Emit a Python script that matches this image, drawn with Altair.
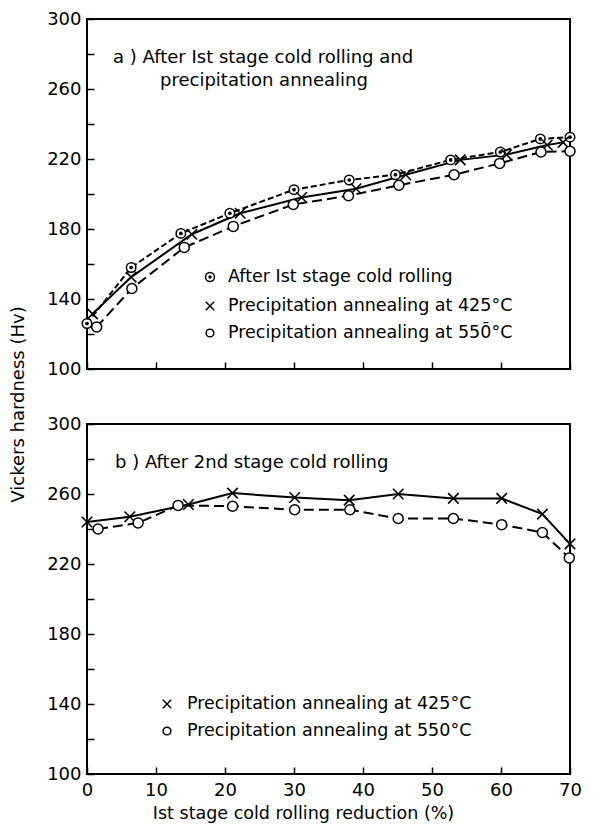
import altair as alt
import pandas as pd

# ---------------- data ----------------
X_TICK_VALUES = [0, 10, 20, 30, 40, 50, 60, 70]
Y_TICK_VALUES = [100, 120, 140, 160, 180, 200, 220, 240, 260, 280, 300]
Y_LABEL_VALUES = [100, 140, 180, 220, 260, 300]

# panel a) after 1st stage cold rolling and precipitation annealing
a_cold_x = [0.0, 6.4, 13.6, 20.7, 30.0, 38.0, 44.7, 52.7, 59.9, 65.7, 70.0]
a_cold_y = [126, 158, 177.5, 189, 202.5, 208, 211, 219.5, 224, 231.5, 232.5]
a_425_x = [0.8, 6.4, 15.2, 22.2, 31.1, 39.0, 46.2, 54.1, 60.8, 66.7, 69.0]
a_425_y = [131.5, 152.5, 177, 189, 198, 203, 211, 219.5, 222.5, 228, 229.5]
a_550_x = [1.4, 6.5, 14.1, 21.2, 29.9, 37.9, 45.2, 53.2, 59.8, 65.8, 70.0]
a_550_y = [124, 146, 169.5, 181.5, 194, 199, 205, 211, 217.5, 224, 224.5]

# panel b) after 2nd stage cold rolling
b_425_x = [0.0, 6.2, 14.7, 21.1, 30.1, 38.0, 45.1, 53.1, 60.1, 66.0, 70.0]
b_425_y = [244, 247, 254, 260.5, 258, 256.5, 260, 257.5, 257.5, 248.5, 231.5]
b_550_x = [1.6, 7.4, 13.2, 21.1, 30.1, 38.1, 45.1, 53.1, 60.1, 66.0, 69.9]
b_550_y = [240, 243.5, 253.5, 253, 251, 251, 246, 246, 242.5, 238, 223.5]

TITLE_A = ["a )  After Ist stage cold rolling and", "precipitation annealing"]
TITLE_B = ["b )  After 2nd stage cold rolling"]
LEGEND_A = ["After Ist stage cold rolling",
            "Precipitation annealing at 425°C",
            "Precipitation annealing at 550̄°C"]
LEGEND_B = ["Precipitation annealing at 425°C",
            "Precipitation annealing at 550°C"]
X_TITLE = "Ist stage cold rolling reduction (%)"
Y_TITLE = "Vickers hardness (Hv)"

# ---------------- styling ----------------
W, H = 483, 350
FONT = "DejaVu Sans"
CROSS = "M-1,-1L1,1M-1,1L1,-1"
INWARD = alt.ExprRef(expr="-7")
LABEL_EXPR = "indexof([" + ",".join(str(v) for v in Y_LABEL_VALUES) + "], datum.value) >= 0 ? datum.label : ''"
ANNOT_SIZE = 18
LEGEND_SIZE = 17.5


def encodings(bottom, ytitle):
    if bottom:
        xaxis = alt.Axis(values=X_TICK_VALUES, labels=True, domain=False, grid=False,
                         tickSize=INWARD, tickWidth=1.5, tickColor="black",
                         labelPadding=14, labelFontSize=18, labelFlush=False,
                         labelOverlap=False, labelColor="black",
                         title=X_TITLE, titleX=216, titleY=39, titleAlign="center",
                         titleBaseline="middle", titleFontSize=17.5,
                         titleFontWeight="normal", titleColor="black")
    else:
        xaxis = alt.Axis(values=X_TICK_VALUES, labels=False, domain=False, grid=False,
                         tickSize=INWARD, tickWidth=1.5, tickColor="black", title=None)
    if ytitle:
        yaxis = alt.Axis(values=Y_TICK_VALUES, labelExpr=LABEL_EXPR, domain=False, grid=False,
                         tickSize=INWARD, tickWidth=1.5, tickColor="black",
                         labelPadding=13, labelFontSize=18, labelFlush=False,
                         labelOverlap=False, labelColor="black",
                         title=Y_TITLE, titleX=-69, titleY=385, titleAngle=270,
                         titleAlign="center", titleBaseline="middle",
                         titleFontSize=18, titleFontWeight="normal", titleColor="black")
    else:
        yaxis = alt.Axis(values=Y_TICK_VALUES, labelExpr=LABEL_EXPR, domain=False, grid=False,
                         tickSize=INWARD, tickWidth=1.5, tickColor="black",
                         labelPadding=13, labelFontSize=18, labelFlush=False,
                         labelOverlap=False, labelColor="black", title=None)
    x = alt.X("x:Q", scale=alt.Scale(domain=[0, 70], nice=False, zero=False), axis=xaxis)
    y = alt.Y("y:Q", scale=alt.Scale(domain=[100, 300], nice=False, zero=False), axis=yaxis)
    return x, y


def frame(xs, ys):
    return pd.DataFrame({"x": xs, "y": ys})


def line(xs, ys, x, y, dash=None):
    kw = dict(color="black", strokeWidth=2)
    if dash:
        kw["strokeDash"] = dash
    return alt.Chart(frame(xs, ys)).mark_line(**kw).encode(x=x, y=y)


def bullseye(xs, ys, x, y):
    outer = alt.Chart(frame(xs, ys)).mark_point(shape="circle", filled=True, fill="white",
                                                 stroke="black", strokeWidth=1.5, size=90,
                                                 opacity=1).encode(x=x, y=y)
    inner = alt.Chart(frame(xs, ys)).mark_point(shape="circle", filled=True, color="black",
                                                 size=14, opacity=1).encode(x=x, y=y)
    return outer + inner


def circles(xs, ys, x, y):
    return alt.Chart(frame(xs, ys)).mark_point(shape="circle", filled=True, fill="white",
                                               stroke="black", strokeWidth=1.5, size=100,
                                               opacity=1).encode(x=x, y=y)


def crosses(xs, ys, x, y):
    return alt.Chart(frame(xs, ys)).mark_point(shape=CROSS, filled=False, stroke="black",
                                               strokeWidth=1.6, size=110,
                                               opacity=1).encode(x=x, y=y)


def text(t, px, py, size):
    return alt.Chart(pd.DataFrame({"t": [t]})).mark_text(
        align="left", baseline="middle", fontSize=size, font=FONT, color="black"
    ).encode(x=alt.value(px), y=alt.value(py), text="t:N")


def sym(kind, px, py):
    d = pd.DataFrame({"t": [kind]})
    if kind == "bull":
        o = alt.Chart(d).mark_point(shape="circle", filled=True, fill="white", stroke="black",
                                    strokeWidth=1.5, size=80, opacity=1).encode(
            x=alt.value(px), y=alt.value(py))
        i = alt.Chart(d).mark_point(shape="circle", filled=True, color="black", size=12,
                                    opacity=1).encode(x=alt.value(px), y=alt.value(py))
        return o + i
    if kind == "cross":
        return alt.Chart(d).mark_point(shape=CROSS, filled=False, stroke="black",
                                       strokeWidth=1.5, size=70, opacity=1).encode(
            x=alt.value(px), y=alt.value(py))
    return alt.Chart(d).mark_point(shape="circle", filled=False, stroke="black",
                                   strokeWidth=1.5, size=60, opacity=1).encode(
        x=alt.value(px), y=alt.value(py))


# ---------------- panel a ----------------
xa, ya = encodings(bottom=False, ytitle=True)
top = alt.layer(
    line(a_cold_x, a_cold_y, xa, ya, [6, 3]),
    line(a_425_x, a_425_y, xa, ya),
    line(a_550_x, a_550_y, xa, ya, [10, 5]),
    bullseye(a_cold_x, a_cold_y, xa, ya),
    crosses(a_425_x, a_425_y, xa, ya),
    circles(a_550_x, a_550_y, xa, ya),
    text(TITLE_A[0], 26, 39, ANNOT_SIZE),
    text(TITLE_A[1], 73, 62, ANNOT_SIZE),
    sym("bull", 123, 258), text(LEGEND_A[0], 141, 258, LEGEND_SIZE),
    sym("cross", 123, 287), text(LEGEND_A[1], 141, 287, LEGEND_SIZE),
    sym("circle", 123, 314), text(LEGEND_A[2], 141, 314, LEGEND_SIZE),
).properties(width=W, height=H)

# ---------------- panel b ----------------
xb, yb = encodings(bottom=True, ytitle=False)
bottom = alt.layer(
    line(b_425_x, b_425_y, xb, yb),
    line(b_550_x, b_550_y, xb, yb, [10, 5]),
    crosses(b_425_x, b_425_y, xb, yb),
    circles(b_550_x, b_550_y, xb, yb),
    text(TITLE_B[0], 28, 39, ANNOT_SIZE),
    sym("cross", 80, 280), text(LEGEND_B[0], 100, 280, LEGEND_SIZE),
    sym("circle", 80, 307), text(LEGEND_B[1], 100, 307, LEGEND_SIZE),
).properties(width=W, height=H)

chart = alt.vconcat(top, bottom, spacing=55, bounds="flush").properties(
    padding={"left": 0, "top": 1, "right": 0, "bottom": 0}
).configure(
    font=FONT, background="white"
).configure_view(stroke="black", strokeWidth=2)

chart.save("out.html", embed_options={"renderer": "svg", "actions": False})
